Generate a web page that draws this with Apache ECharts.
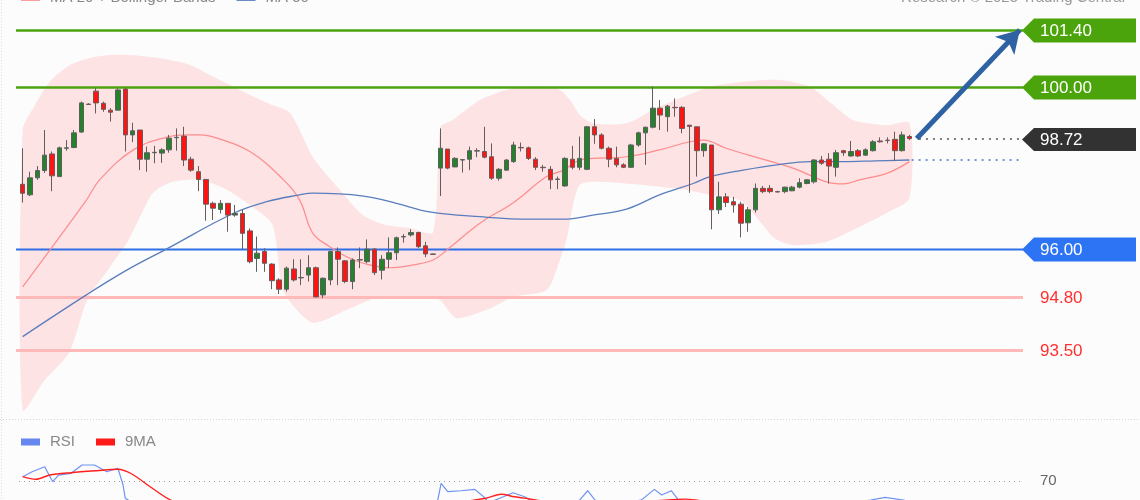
<!DOCTYPE html>
<html><head><meta charset="utf-8">
<script src="https://cdn.jsdelivr.net/npm/echarts@6/dist/echarts.min.js"></script>
<style>html,body{margin:0;padding:0;background:#fbfcfb;}#c{width:1140px;height:500px;}</style>
</head><body><div id="c"></div>
<script>
// ---------- DATA ----------
const categories = Array.from({length: 137}, (_, i) => 'P' + (i + 1));
// [open, close, low, high]
const candles = [
[97.59,97.37,97.14,98.48],[97.33,97.75,97.30,97.90],[97.75,97.93,97.70,98.04],[97.93,98.31,97.87,98.93],[98.34,97.80,97.42,98.40],
[97.78,98.49,97.78,98.52],[98.48,98.49,98.42,98.68],[98.50,98.86,98.48,98.93],[98.88,99.60,98.86,99.63],[99.57,99.56,99.55,99.59],
[99.89,99.60,99.34,99.96],[99.59,99.44,99.38,99.63],[99.42,99.37,99.14,99.47],[99.42,99.92,99.42,99.96],[99.94,98.81,98.40,99.96],
[98.81,98.91,98.63,99.11],[98.93,98.21,97.94,98.93],[98.21,98.37,97.90,98.52],[98.37,98.38,98.11,98.54],[98.36,98.44,98.12,98.48],
[98.44,98.73,98.37,98.81],[98.74,98.75,98.42,98.97],[98.78,98.19,98.04,99.01],[98.21,97.94,97.90,98.27],[97.90,97.71,97.42,98.04],
[97.71,97.10,96.69,97.71],[97.12,97.00,96.71,97.16],[96.97,97.12,96.87,97.20],[97.12,96.83,96.42,97.12],[96.83,96.87,96.79,97.08],
[96.87,96.38,95.99,96.96],[96.44,95.68,95.64,96.50],[95.76,95.89,95.43,96.30],[95.93,95.64,95.43,96.01],[95.62,95.21,95.00,95.64],
[95.23,95.00,94.88,95.27],[95.00,95.52,94.94,95.56],[95.50,95.23,95.19,95.74],[95.28,95.29,95.10,95.74],[95.35,95.53,95.19,95.84],
[95.53,94.81,94.80,95.56],[94.86,95.27,94.78,95.29],[95.23,95.93,95.10,95.95],[95.93,95.74,95.10,96.03],[95.70,95.19,95.15,95.72],
[95.19,95.72,95.00,95.76],[95.72,95.73,95.52,96.03],[95.68,95.99,95.64,96.23],[95.99,95.41,95.35,96.01],[95.47,95.74,95.24,95.84],
[95.74,95.90,95.52,96.28],[95.90,96.27,95.72,96.30],[96.29,96.30,96.15,96.36],[96.34,96.40,96.30,96.48],[96.40,96.05,96.02,96.42],
[96.07,95.87,95.79,96.17],[95.87,95.86,95.85,95.88],[97.99,98.48,97.30,98.97],[98.46,97.99,97.96,98.46],[98.02,98.23,98.01,98.26],
[98.19,98.20,97.88,98.21],[98.21,98.42,97.94,98.52],[98.41,98.42,98.26,98.48],[98.40,98.26,98.23,99.01],[98.27,97.74,97.70,98.60],
[97.74,97.96,97.68,97.99],[97.94,98.19,97.93,98.21],[98.15,98.56,98.12,98.64],[98.50,98.49,98.40,98.62],[98.49,98.23,98.19,98.52],
[98.21,98.01,97.94,98.26],[98.01,98.00,97.90,98.07],[97.96,97.70,97.47,98.04],[97.71,97.72,97.47,97.78],[97.55,98.23,97.53,98.26],
[98.21,98.01,97.96,98.54],[98.01,98.23,97.94,98.77],[97.96,99.01,97.94,99.03],[99.01,98.81,98.59,99.20],[98.81,98.48,98.45,98.85],
[98.48,98.21,98.01,98.52],[98.23,98.07,98.01,98.52],[98.07,98.01,97.99,98.11],[98.01,98.56,97.99,98.59],[98.56,98.86,98.52,98.89],
[98.86,99.00,98.07,99.01],[99.00,99.47,98.97,100.00],[99.47,99.30,98.93,99.67],[99.26,99.52,98.89,99.55],[99.49,99.48,99.26,99.71],
[99.49,98.97,98.85,99.52],[99.05,99.02,97.38,99.05],[99.01,98.42,97.78,99.01],[98.42,98.59,98.27,98.60],[98.56,96.96,96.48,98.56],
[96.96,97.28,96.86,97.65],[97.28,97.14,97.03,97.37],[97.16,97.08,96.89,97.28],[97.10,96.63,96.28,97.16],[96.64,96.96,96.42,97.03],
[96.96,97.49,96.89,97.61],[97.49,97.41,97.37,97.55],[97.49,97.41,97.37,97.57],[97.41,97.40,97.39,97.43],[97.41,97.52,97.37,97.53],
[97.43,97.52,97.42,97.55],[97.52,97.63,97.49,97.74],[97.61,97.70,97.59,97.72],[97.65,98.19,97.61,98.21],[98.19,98.11,98.07,98.29],
[98.21,98.04,97.61,98.36],[98.01,98.37,97.78,98.44],[98.42,98.37,98.29,98.44],[98.29,98.40,98.27,98.66],[98.42,98.29,98.26,98.46],
[98.31,98.44,98.29,98.48],[98.42,98.64,98.40,98.68],[98.66,98.64,98.62,98.75],[98.68,98.67,98.60,98.75],[98.70,98.42,98.17,98.89],
[98.42,98.81,98.40,98.89],[98.77,98.72,98.68,98.81]
];
// [bar index, price] readings
const ma20 = [[0,95.06],[8.7,97.20],[10.5,97.70],[15.1,98.44],[19.6,98.75],[22.4,98.81],[24.2,98.81],[26.5,98.73],[31,98.40],[35.6,97.70],[37.8,97.20],[39.6,96.38],[41.9,96.05],[44.2,95.80],[46.5,95.64],[50.1,95.53],[53.3,95.60],[56,95.72],[57.9,95.97],[62.4,96.63],[66.9,97.13],[71.5,97.78],[73.8,97.94],[76,98.19],[77.8,98.23],[82.4,98.27],[86.9,98.44],[91,98.64],[92.9,98.68],[96,98.48],[100.6,98.23],[105.1,97.99],[109.7,97.65],[112,97.60],[114.2,97.70],[117.9,97.86],[121,98.15]];
const ma50 = [[0,93.83],[8.7,94.86],[14.2,95.47],[19.6,95.99],[28.7,96.87],[33.3,97.16],[37.8,97.33],[39.6,97.37],[46.5,97.30],[51,97.12],[55.5,96.91],[62.4,96.79],[69.2,96.73],[73.8,96.73],[77.8,96.83],[82.4,96.98],[86.9,97.33],[91.5,97.61],[93.8,97.78],[98.3,97.94],[102.9,98.07],[107.4,98.15],[112,98.15],[116.4,98.17],[121,98.19]];
const bandUpper = [[0,98.93],[1.7,99.55],[3.7,100.12],[6.5,100.54],[9.2,100.71],[11.9,100.78],[14.6,100.78],[17.4,100.73],[20.1,100.66],[22.8,100.54],[25.5,100.29],[28.3,100.04],[31,99.80],[33.7,99.57],[36.5,99.35],[39.6,98.26],[43.3,97.45],[46.4,96.83],[49.4,96.59],[52.8,96.51],[56,96.41],[57,99.00],[58.7,99.18],[62.4,99.67],[66,99.92],[69.2,100.00],[72.9,99.96],[74.7,99.67],[76,99.30],[77.8,99.10],[82.4,99.10],[86.9,99.51],[91.4,99.84],[93.8,100.00],[98.3,100.12],[102.9,100.17],[107.4,100.00],[110.6,99.55],[113.3,99.18],[117.9,99.05],[121,99.10]];
const bandLower = [[0,92.02],[3,92.76],[6.3,93.42],[8.8,94.73],[11.9,95.55],[14.2,96.14],[16,96.78],[17.8,97.38],[20.5,97.65],[24.2,97.70],[27.9,97.45],[31.4,97.03],[34.1,96.59],[35.5,94.98],[37.8,94.41],[39.6,94.17],[41.9,94.29],[44.2,94.49],[48.7,94.81],[53.2,94.81],[56,94.78],[57,94.73],[59.2,94.29],[63.3,94.49],[66.9,94.81],[71.5,94.98],[73.3,95.72],[74.3,96.29],[75.1,97.08],[76,97.57],[77.8,97.65],[82.4,97.61],[86.9,97.53],[90.6,97.45],[93.8,97.33],[97.8,97.20],[100.2,96.76],[102.6,96.26],[105.1,96.09],[109.7,96.17],[114.2,96.54],[117.9,96.88],[121,97.25]];
const rsi = [[0,75.0],[1.3,80.7],[3,86.5],[4.1,69.2],[4.9,76.9],[6.6,78.9],[8.1,88.5],[9.8,88.5],[11.5,80.7],[13,84.7],[13.7,65.4],[14,50.1],[16,40],[24,32],[32,25],[40,30],[48,40],[55,38],[56.5,42],[57.1,67.4],[58,57.7],[59.8,58.8],[61.7,60.4],[62.9,51.9],[63.6,45],[65.6,51.9],[66.9,56.5],[68.5,51.9],[70,44],[75,45],[76,48],[77.1,58.8],[78.1,48],[80,42],[84.4,48],[86.2,60.4],[87.2,53.9],[88.5,58.8],[89.5,48],[92,42],[96,28],[100,30],[106,38],[112,44],[115.7,48],[117.7,51.2],[120.2,48],[121,46]];
const rsiMa = [[0,75.0],[1.8,72.0],[3.7,76.9],[6.6,79.6],[10.1,81.9],[13,83.5],[14.9,78.1],[17.4,63.4],[20.2,48.1],[24,38],[32,28],[40,30],[50,38],[58,44],[63.2,50.1],[65.3,54.7],[67.1,51.9],[69,49.6],[72,46],[80,45],[86,47],[90.5,49.1],[94,45],[100,36],[110,38],[121,44]];
const levelValues = [101.40, 100.00, 96.00, 94.80, 93.50];
const levelLabels = ['101.40', '100.00', '96.00', '94.80', '93.50'];
const lastPrice = [98.72];
const lastLabel = ['98.72'];
const ma50Last = [98.19];
const arrowFrom = [122.0, 98.72];
const arrowTo = [136.06, 101.40];
const rsiLevel = [70];

// ---------- STYLE ----------
const FONT = '"Liberation Sans", Arial, sans-serif';
const levelStyle = [
  {line: '#4ca30f', width: 2.5, tag: '#4ca40c', text: '#ffffff'},
  {line: '#4ca30f', width: 2.5, tag: '#4ca40c', text: '#ffffff'},
  {line: '#2f6fe6', width: 2, tag: '#2d74f4', text: '#ffffff'},
  {line: '#ffb9b9', width: 3, tag: null, text: '#ff3030'},
  {line: '#ffb9b9', width: 3, tag: null, text: '#ff3030'}
];
const X_LINE0 = 16, X_LINE1 = 1023, X_TAG = 1022, X_TAGR = 1136, X_TEXT = 1040;

function tag(y, fill, text, textFill, h) {
  const out = [];
  if (fill) out.push({type: 'polygon', shape: {points: [[X_TAG, y], [X_TAG + 12, y - h / 2], [X_TAGR, y - h / 2], [X_TAGR, y + h / 2], [X_TAG + 12, y + h / 2]]}, style: {fill: fill}});
  out.push({type: 'text', style: {text: text, x: X_TEXT, y: y + 1, verticalAlign: 'middle', fill: textFill, font: '17px ' + FONT}});
  return out;
}

const chart = echarts.init(document.getElementById('c'), null, {renderer: 'canvas'});
const hiddenAxis = {show: false, splitLine: {show: false}};
chart.setOption({
  animation: false,
  backgroundColor: '#fbfcfb',
  title: {text: 'Research © 2025 Trading Central', right: 15, top: -10, padding: 0,
    textStyle: {color: '#9a9a9a', fontSize: 15, fontWeight: 'normal', fontFamily: FONT}},
  legend: [
    {data: ['MA 20 + Bollinger Bands', 'MA 50'], left: 21, top: -10, padding: 0, icon: 'rect', itemWidth: 19, itemHeight: 7, itemGap: 21, selectedMode: false,
      textStyle: {color: '#888', fontSize: 15, fontFamily: FONT, padding: [0, 0, 0, 5]}},
    {data: ['RSI', '9MA'], left: 21, top: 434.5, padding: 0, icon: 'rect', itemWidth: 19, itemHeight: 7, itemGap: 21, selectedMode: false,
      textStyle: {color: '#888', fontSize: 15, fontFamily: FONT, padding: [0, 0, 0, 5]}}
  ],
  grid: [
    {left: 19, top: 0, width: 1004, height: 416, outerBoundsMode: 'none'},
    {left: 19, top: 455, width: 1004, height: 44.5, outerBoundsMode: 'none'}
  ],
  xAxis: [
    Object.assign({type: 'category', data: categories, gridIndex: 0, boundaryGap: true}, hiddenAxis),
    Object.assign({type: 'value', gridIndex: 0, min: -0.5, max: 136.5}, hiddenAxis),
    Object.assign({type: 'value', gridIndex: 1, min: -0.5, max: 136.5}, hiddenAxis)
  ],
  yAxis: [
    Object.assign({type: 'value', gridIndex: 0, min: 91.87, max: 102.14}, hiddenAxis),
    Object.assign({type: 'value', gridIndex: 1, min: 48.7, max: 100}, hiddenAxis)
  ],
  graphic: [
    {type: 'line', shape: {x1: 0, y1: 419.5, x2: 1140, y2: 419.5}, style: {stroke: '#d6d6d6', lineDash: [1, 2], lineWidth: 1}, silent: true},
    {type: 'line', shape: {x1: 1.5, y1: 0, x2: 1.5, y2: 500}, style: {stroke: '#dcdcdc', lineDash: [1, 2], lineWidth: 1}, silent: true}
  ],
  series: [
    {
      name: 'band', type: 'custom', xAxisIndex: 1, yAxisIndex: 0, data: [[0, 95]], z: 1, silent: true,
      renderItem: function (params, api) {
        const pts = bandUpper.map(p => api.coord(p)).concat(bandLower.slice().reverse().map(p => api.coord(p)));
        return {type: 'polygon', shape: {points: pts, smooth: 0.25}, style: {fill: '#fde3e4'}};
      }
    },
    {
      name: 'levels', type: 'custom', xAxisIndex: 1, yAxisIndex: 0, z: 2, silent: true,
      data: levelValues.map(v => [0, v]),
      renderItem: function (params, api) {
        const y = Math.round(api.coord([0, api.value(1)])[1]) + 0.5;
        const s = levelStyle[params.dataIndex];
        const ch = [{type: 'line', shape: {x1: X_LINE0, y1: y, x2: X_LINE1, y2: y}, style: {stroke: s.line, lineWidth: s.width}}];
        return {type: 'group', children: ch.concat(tag(y, s.tag, levelLabels[params.dataIndex], s.text, 24))};
      }
    },
    {
      name: 'MA 20 + Bollinger Bands', type: 'line', xAxisIndex: 1, yAxisIndex: 0, data: ma20, smooth: 0.4, showSymbol: false, z: 3,
      lineStyle: {color: '#ff8c8c', width: 1.2}, itemStyle: {color: '#ff9c9c'}, silent: true
    },
    {
      name: 'MA 50', type: 'line', xAxisIndex: 1, yAxisIndex: 0, data: ma50, smooth: 0.4, showSymbol: false, z: 3,
      lineStyle: {color: '#5a7dbd', width: 1.3}, itemStyle: {color: '#6a8ac8'}, silent: true,
      markLine: {
        silent: true, symbol: ['none', 'none'], animation: false,
        label: {show: false},
        data: [
          [{coord: [122.3, lastPrice[0]], lineStyle: {type: [2, 5], color: '#555', width: 1.5}}, {coord: [136.2, lastPrice[0]]}],
          [{coord: [121.3, ma50Last[0]], lineStyle: {type: [2, 5], color: '#4a70d0', width: 1.5}}, {coord: [136.2, ma50Last[0]]}],
          [{coord: arrowFrom, lineStyle: {color: '#2f62a3', width: 5, type: 'solid'}, symbol: 'none'}, {coord: arrowTo, symbol: 'arrow', symbolSize: [20, 22]}]
        ]
      }
    },
    {
      name: 'last', type: 'custom', xAxisIndex: 1, yAxisIndex: 0, z: 6, silent: true,
      data: lastPrice.map(v => [0, v]),
      renderItem: function (params, api) {
        const y = Math.round(api.coord([0, api.value(1)])[1]) + 0.5;
        return {type: 'group', children: tag(y, '#323232', lastLabel[params.dataIndex], '#ffffff', 23)};
      }
    },
    {
      name: 'price', type: 'candlestick', xAxisIndex: 0, yAxisIndex: 0, data: candles, barWidth: 5, z: 5, silent: true,
      itemStyle: {color: '#23822a', color0: '#ff1414', borderColor: '#5e5e5e', borderColor0: '#6a5a5a', borderWidth: 1}
    },
    {
      name: 'RSI', type: 'line', xAxisIndex: 2, yAxisIndex: 1, data: rsi, showSymbol: false, silent: true,
      lineStyle: {color: '#6f93f2', width: 1.2}, itemStyle: {color: '#6688ee'},
      markLine: {
        silent: true, symbol: ['none', 'none'],
        lineStyle: {type: [1, 4], color: '#9a9a9a', width: 1.2},
        label: {show: true, position: 'end', distance: 17, formatter: '70', color: '#666', fontSize: 15, fontFamily: FONT},
        data: [{yAxis: rsiLevel[0]}]
      }
    },
    {
      name: '9MA', type: 'line', xAxisIndex: 2, yAxisIndex: 1, data: rsiMa, smooth: 0.3, showSymbol: false, silent: true,
      lineStyle: {color: '#ff2020', width: 1.4}, itemStyle: {color: '#ff1a1a'}
    }
  ]
});
</script></body></html>
